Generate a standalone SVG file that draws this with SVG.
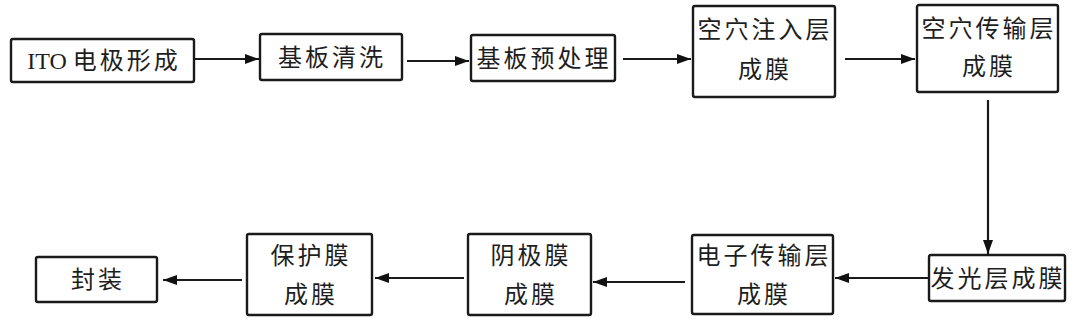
<svg xmlns="http://www.w3.org/2000/svg" width="1080" height="322" viewBox="0 0 1080 322">
<style>
.box{fill:#fff;stroke:#1a1a1a;stroke-width:2.4}
.t{font-family:"Liberation Serif","Noto Sans CJK SC",serif;font-size:24px;fill:#1e1e1e;text-anchor:middle;dominant-baseline:central;letter-spacing:3px}
.c{stroke:#1a1a1a;stroke-width:2.2;fill:none;marker-end:url(#ah)}
</style>
<defs>
<marker id="ah" viewBox="0 0 14 10" refX="14" refY="5" markerWidth="14" markerHeight="10" markerUnits="userSpaceOnUse" orient="auto">
<path d="M0,0 L14,5 L0,10 Z" fill="#111"/>
</marker>
</defs>
<rect width="1080" height="322" fill="#fff"/>
<g id="connectors">
<line class="c" x1="195" y1="59" x2="259" y2="59"/>
<line class="c" x1="407" y1="61" x2="469" y2="61"/>
<line class="c" x1="623" y1="59" x2="691" y2="59"/>
<line class="c" x1="845" y1="59" x2="915" y2="59"/>
<line class="c" x1="988" y1="100" x2="988" y2="254"/>
<line class="c" x1="928" y1="278" x2="835" y2="278"/>
<line class="c" x1="685" y1="282" x2="593" y2="282"/>
<line class="c" x1="464" y1="278" x2="375" y2="278"/>
<line class="c" x1="242" y1="280" x2="163" y2="280"/>
</g>
<g id="n1"><rect class="box" x="11" y="39" width="183" height="43" rx="2"/><text class="t" x="104" y="61"><tspan letter-spacing="0">ITO </tspan>电极形成</text></g>
<g id="n2"><rect class="box" x="260" y="34" width="142" height="46" rx="2"/><text class="t" x="332" y="58">基板清洗</text></g>
<g id="n3"><rect class="box" x="471" y="35" width="144" height="46" rx="2"/><text class="t" x="544" y="59">基板预处理</text></g>
<g id="n4"><rect class="box" x="693" y="6" width="142" height="91" rx="2"/><text class="t" x="765" y="30">空穴注入层</text><text class="t" x="765" y="70">成膜</text></g>
<g id="n5"><rect class="box" x="917" y="5" width="141" height="87" rx="2"/><text class="t" x="989" y="29">空穴传输层</text><text class="t" x="989" y="67">成膜</text></g>
<g id="n6"><rect class="box" x="929" y="255" width="136" height="46" rx="2"/><text class="t" x="998" y="279">发光层成膜</text></g>
<g id="n7"><rect class="box" x="692" y="235" width="141" height="79" rx="2"/><text class="t" x="764" y="256">电子传输层</text><text class="t" x="764" y="295">成膜</text></g>
<g id="n8"><rect class="box" x="468" y="234" width="123" height="81" rx="2"/><text class="t" x="531" y="256">阴极膜</text><text class="t" x="531" y="295">成膜</text></g>
<g id="n9"><rect class="box" x="247" y="234" width="125" height="81" rx="2"/><text class="t" x="311" y="256">保护膜</text><text class="t" x="311" y="295">成膜</text></g>
<g id="n10"><rect class="box" x="36" y="257" width="121" height="45" rx="2"/><text class="t" x="98" y="280">封装</text></g>
</svg>
